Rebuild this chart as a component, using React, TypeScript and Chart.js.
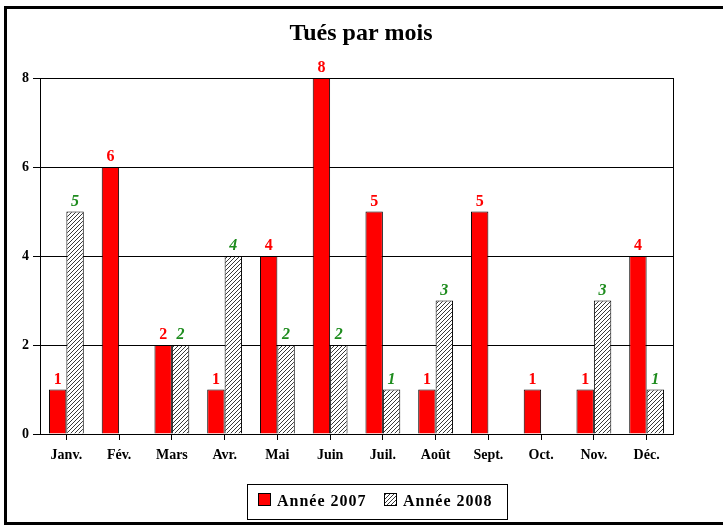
import React, { useEffect, useRef } from "react";
import { Chart, registerables } from "chart.js";

Chart.register(...registerables);

const categories = ["Janv.", "Fév.", "Mars", "Avr.", "Mai", "Juin", "Juil.", "Août", "Sept.", "Oct.", "Nov.", "Déc."];
const values2007: (number | null)[] = [1, 6, 2, 1, 4, 8, 5, 1, 5, 1, 1, 4];
const values2008: (number | null)[] = [5, null, 2, 4, 2, 2, 1, 3, null, null, 3, 1];
const seriesNames = ["Année 2007", "Année 2008"];
const yTicks = [0, 2, 4, 6, 8];
const titleText = "Tués par mois";

const SERIF = "'Liberation Serif', 'Times New Roman', serif";
const RED = "#FF0000";
const GREEN = "#1E8C1E";

function makeHatch(): CanvasPattern | string {
  const c = document.createElement("canvas");
  const s = 4;
  c.width = s;
  c.height = s;
  const ctx = c.getContext("2d");
  if (!ctx) return "#fff";
  ctx.fillStyle = "#fff";
  ctx.fillRect(0, 0, s, s);
  ctx.strokeStyle = "#222";
  ctx.lineWidth = 0.9;
  ctx.beginPath();
  ctx.moveTo(0, s);
  ctx.lineTo(s, 0);
  ctx.moveTo(-1, 1);
  ctx.lineTo(1, -1);
  ctx.moveTo(s - 1, s + 1);
  ctx.lineTo(s + 1, s - 1);
  ctx.stroke();
  const p = ctx.createPattern(c, "repeat");
  return p || "#fff";
}

export default function App() {
  const ref = useRef<HTMLCanvasElement | null>(null);

  useEffect(() => {
    document.body.style.margin = "0";
    const canvas = ref.current;
    if (!canvas) return;
    const hatch = makeHatch();

    const overlay = {
      id: "overlay",
      afterDraw(chart: any) {
        const ctx = chart.ctx as CanvasRenderingContext2D;
        const ca = chart.chartArea;
        ctx.save();
        // plot-area frame
        ctx.strokeStyle = "#000";
        ctx.lineWidth = 1;
        ctx.strokeRect(Math.round(ca.left) + 0.5, Math.round(ca.top) + 0.5, Math.round(ca.right - ca.left), Math.round(ca.bottom - ca.top));

        // outer frame
        ctx.lineWidth = 3;
        ctx.beginPath();
        ctx.moveTo(900, 7.5);
        ctx.lineTo(5.5, 7.5);
        ctx.lineTo(5.5, 523.5);
        ctx.lineTo(900, 523.5);
        ctx.stroke();

        // title
        ctx.fillStyle = "#000";
        ctx.font = `bold 24px ${SERIF}`;
        ctx.textAlign = "center";
        ctx.textBaseline = "alphabetic";
        ctx.fillText(titleText, 361, 40, 146);

        // value labels
        chart.data.datasets.forEach((ds: any, di: number) => {
          const meta = chart.getDatasetMeta(di);
          ctx.font = di === 0 ? `bold 17px ${SERIF}` : `italic bold 17px ${SERIF}`;
          ctx.fillStyle = di === 0 ? RED : GREEN;
          ctx.textAlign = "center";
          meta.data.forEach((bar: any, i: number) => {
            const v = ds.data[i];
            if (v === null || v === undefined) return;
            ctx.fillText(String(v), bar.x, bar.y - 6, 8);
          });
        });

        // legend
        ctx.lineWidth = 1;
        ctx.strokeStyle = "#000";
        ctx.strokeRect(247.5, 484.5, 260, 35);
        ctx.fillStyle = RED;
        ctx.fillRect(258, 493, 13, 13);
        ctx.strokeRect(258.5, 493.5, 12, 12);
        ctx.fillStyle = hatch as any;
        ctx.fillRect(384, 493, 13, 13);
        ctx.strokeRect(384.5, 493.5, 12, 12);
        ctx.fillStyle = "#000";
        ctx.font = `bold 16px ${SERIF}`;
        (ctx as any).letterSpacing = "1px";
        ctx.textAlign = "left";
        ctx.fillText(seriesNames[0], 277, 506, 90);
        ctx.fillText(seriesNames[1], 403, 506, 94);
        (ctx as any).letterSpacing = "0px";
        ctx.restore();
      },
    };

    const chart = new Chart(canvas, {
      type: "bar",
      data: {
        labels: categories,
        datasets: [
          {
            label: seriesNames[0],
            data: values2007,
            backgroundColor: RED,
            borderColor: "#000",
            borderWidth: 1,
            categoryPercentage: 0.66,
            barPercentage: 1,
          },
          {
            label: seriesNames[1],
            data: values2008,
            backgroundColor: hatch as any,
            borderColor: "#000",
            borderWidth: 1,
            categoryPercentage: 0.66,
            barPercentage: 1,
          },
        ],
      },
      options: {
        responsive: false,
        animation: false,
        devicePixelRatio: 1,
        layout: { padding: { left: 0, top: 78, right: 50, bottom: 61 } },
        plugins: {
          legend: { display: false },
          title: { display: false },
          tooltip: { enabled: false },
        },
        scales: {
          x: {
            afterFit: (s: any) => {
              s.height = 30;
            },
            grid: {
              offset: false,
              drawOnChartArea: false,
              tickLength: 6,
              color: "#000",
            },
            border: { color: "#000", width: 1 },
            ticks: {
              color: "#000",
              font: { family: SERIF, size: 14, weight: "bold" },
              padding: 7,
              maxRotation: 0,
              autoSkip: false,
            },
          },
          y: {
            min: 0,
            max: 8,
            afterFit: (s: any) => {
              s.width = 40;
            },
            afterBuildTicks: (s: any) => {
              s.ticks = yTicks.map((v) => ({ value: v }));
            },
            grid: {
              color: "#000",
              tickLength: 7,
            },
            border: { color: "#000", width: 1 },
            ticks: {
              color: "#000",
              font: { family: SERIF, size: 14, weight: "bold" },
              padding: 4,
            },
          },
        },
      },
      plugins: [overlay],
    });

    return () => chart.destroy();
  }, []);

  return <canvas ref={ref} width={723} height={525} style={{ display: "block", width: 723, height: 525 }} />;
}
